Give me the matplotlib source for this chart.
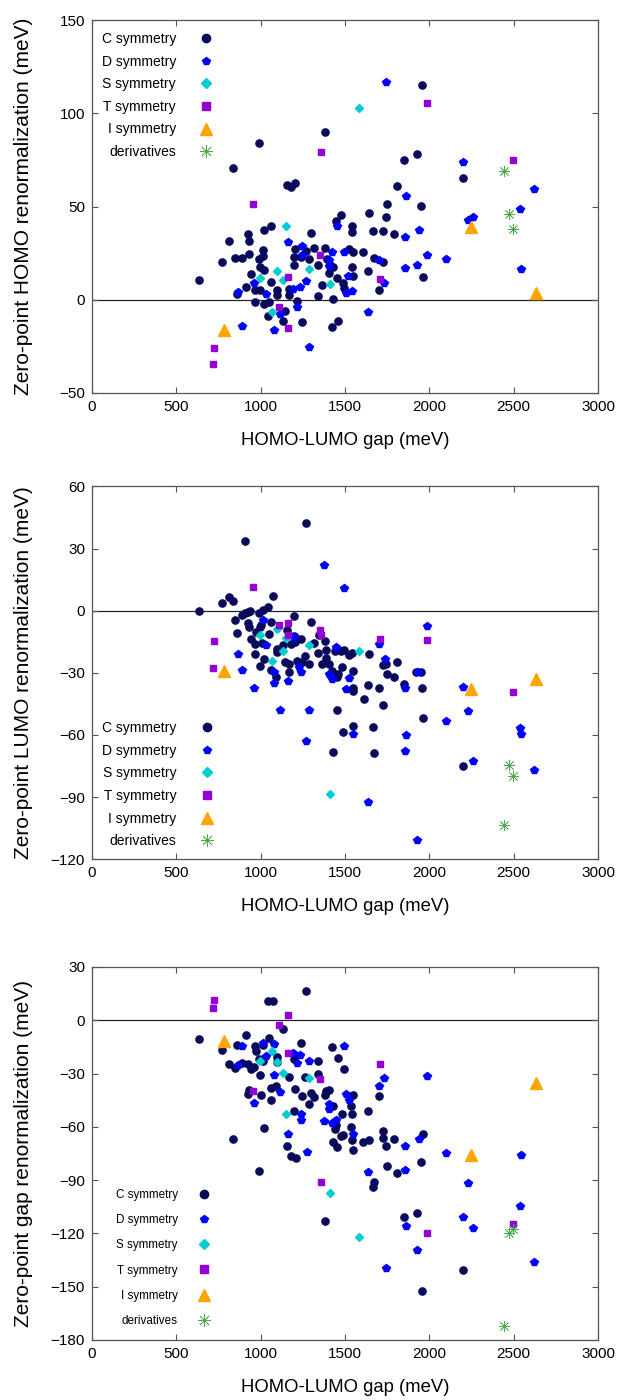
import matplotlib
matplotlib.use("Agg")
import matplotlib.pyplot as plt

plt.rcParams['font.family'] = ['Liberation Sans', 'DejaVu Sans']

labels = ["C symmetry", "D symmetry", "S symmetry", "T symmetry", "I symmetry", "derivatives"]
xticks = [0, 500, 1000, 1500, 2000, 2500, 3000]

# ---------------- Panel 1: HOMO ----------------
homo_C_x = [632, 770, 815, 835, 849, 888, 859, 910, 926, 928, 932, 943, 965, 967, 989, 991, 997, 1011, 1011, 997,
            1017, 1020, 1018, 1042, 1052, 1064, 1064, 1095, 1099, 1131, 1145, 1155, 1178, 1206, 1168, 1168, 1198, 1198,
            1206, 1214, 1240, 1242, 1269, 1285, 1301, 1317, 1338, 1342, 1364, 1380, 1384, 1392, 1407, 1411, 1423, 1429,
            1431, 1447, 1451, 1474, 1490, 1494, 1524, 1542, 1542, 1545, 1543, 1549, 1459, 1609, 1634, 1644, 1664, 1674,
            1703, 1727, 1727, 1743, 1747, 1792, 1810, 1849, 1924, 1950, 1954, 1960, 2201]
homo_C_y = [10.4, 20.5, 31.3, 70.9, 22.3, 22.3, 3.0, 7.0, 35.5, 31.3, 24.5, 13.9, 5.4, -1.4, 83.9, 21.8, 17.3, 26.6,
            23.6, 5.4, -2.1, 37.5, 16.1, -8.9, -1.4, 39.3, 9.5, 5.2, 2.5, -11.6, -6.2, 61.3, 60.4, 62.5, 5.7, 2.3, 18.8,
            22.9, 27.1, -0.9, 22.9, -12.0, 26.1, 21.8, 35.9, 27.9, 18.8, 2.0, 7.7, 27.5, 90.2, 21.6, 14.3, 18.8, -14.8,
            0.4, 17.3, 42.1, 11.4, 45.5, 8.9, 6.2, 27.3, 39.3, 36.4, 25.5, 17.3, 12.9, -11.2, 25.4, 15.2, 46.6, 37.1,
            22.3, 5.0, 37.1, 20.5, 44.5, 51.6, 35.0, 60.9, 74.8, 78.0, 50.2, 115.4, 12.1, 65.5]
homo_D_x = [868, 888, 963, 1030, 1076, 1113, 1159, 1190, 1218, 1232, 1245, 1245, 1269, 1289, 1403, 1421, 1407, 1451,
            1494, 1506, 1520, 1543, 1634, 1703, 1733, 1741, 1853, 1853, 1861, 1926, 1936, 1984, 2098, 2201, 2230, 2260,
            2536, 2542, 2621]
homo_D_y = [4.3, -13.9, 8.9, 3.2, -16.1, -7.9, 30.7, 5.7, -3.9, 7.0, 28.6, 24.1, 9.8, -25.4, 21.1, 25.5, 18.2, 39.3,
            25.5, 3.6, 12.5, 4.5, -6.8, 21.1, 8.8, 117.0, 33.8, 17.0, 55.7, 18.6, 37.5, 24.1, 21.6, 73.8, 42.7, 44.6,
            48.4, 16.6, 59.5]
homo_S_x = [997, 1070, 1099, 1135, 1151, 1287, 1411, 1581]
homo_S_y = [11.4, -6.8, 15.2, 10.5, 39.5, 16.4, 8.6, 102.7]
homo_T_x = [724, 720, 957, 1111, 1159, 1159, 1352, 1356, 1707, 1989, 2493]
homo_T_y = [-26.1, -34.5, 51.4, -3.9, 12.3, -15.0, 23.9, 79.3, 10.9, 105.5, 75.0]
homo_I_x = [780, 2244, 2635]
homo_I_y = [-16.4, 38.8, 3.6]
homo_der_x = [2443, 2473, 2497]
homo_der_y = [68.8, 45.9, 37.9]

# ---------------- Panel 2: LUMO ----------------
lumo_C_x = [632, 770, 815, 835, 849, 859, 888, 908, 926, 934, 908, 926, 930, 943, 965, 971, 967, 989, 993, 997,
            1001, 1011, 1020, 1007, 1042, 1050, 1062, 1062, 1074, 1092, 1095, 1095, 1131, 1143, 1155, 1170, 1168, 1178,
            1198, 1206, 1198, 1218, 1243, 1237, 1263, 1269, 1285, 1301, 1316, 1340, 1344, 1366, 1380, 1388, 1388, 1403,
            1423, 1441, 1451, 1451, 1460, 1480, 1474, 1494, 1490, 1522, 1539, 1545, 1545, 1545, 1545, 1613, 1636, 1644,
            1664, 1674, 1703, 1727, 1727, 1743, 1747, 1792, 1810, 1849, 1921, 1950, 1954, 1960, 2201, 1431, 1204]
lumo_C_y = [0.0, 3.9, 6.4, 4.5, -4.3, -10.9, -1.9, -1.3, -0.6, 0.0, 33.7, -5.9, -7.7, -13.6, -21.0, -10.1, -16.0,
            -1.0, -8.0, -26.6, -6.7, 0.3, -23.4, -15.7, 1.8, -11.2, -5.6, -28.4, 6.9, -32.1, -18.4, -19.9, -16.4, -24.7,
            -9.3, -25.8, -29.7, -16.0, -2.7, -15.2, -12.0, -24.1, -24.7, -13.6, -22.1, 42.5, -25.7, -5.3, -15.4, -20.5,
            -11.7, -25.7, -14.8, -18.8, -22.9, -25.7, -28.9, -19.7, -32.1, -47.8, -30.8, -27.3, -19.7, -18.9, -58.6,
            -21.2, -20.5, -29.2, -37.2, -38.8, -55.5, -42.8, -35.9, -21.0, -56.2, -68.7, -37.4, -26.0, -45.7, -25.7,
            -30.6, -31.9, -25.0, -35.5, -29.8, -29.5, -37.1, -51.7, -74.8, -68.3, -12.5]
lumo_D_x = [868, 888, 963, 1013, 1030, 1076, 1076, 1115, 1159, 1198, 1230, 1239, 1269, 1289, 1378, 1407, 1421, 1447,
            1494, 1506, 1522, 1545, 1634, 1703, 1737, 1853, 1861, 1855, 1928, 1934, 1984, 2098, 2201, 2230, 2260, 2536,
            2542, 2621]
lumo_D_y = [-21.0, -28.7, -37.5, -4.5, -16.7, -29.7, -34.7, -48.1, -34.0, -12.8, -27.3, -29.4, -63.0, -48.1, 22.0,
            -30.8, -32.9, -17.6, 11.1, -38.0, -32.4, -59.5, -92.2, -16.2, -23.3, -37.1, -60.2, -67.5, -110.7, -29.8,
            -7.5, -53.3, -36.9, -48.6, -72.5, -56.5, -59.5, -76.7]
lumo_S_x = [993, 1070, 1099, 1135, 1151, 1287, 1411, 1581]
lumo_S_y = [-11.7, -24.2, -8.7, -19.3, -13.3, -16.4, -88.4, -19.3]
lumo_T_x = [724, 720, 957, 1111, 1159, 1159, 1352, 1356, 1707, 1989, 2493]
lumo_T_y = [-14.8, -27.6, 11.6, -6.7, -6.1, -11.6, -9.5, -11.6, -13.6, -14.3, -39.3]
lumo_I_x = [780, 2244, 2635]
lumo_I_y = [-28.9, -37.7, -32.9]
lumo_der_x = [2473, 2497, 2443]
lumo_der_y = [-74.4, -79.7, -103.2]

# ---------------- Panel 3: gap ----------------
gap_C_x = [632, 770, 815, 835, 849, 859, 888, 910, 926, 930, 926, 943, 961, 965, 971, 991, 993, 987, 1001, 1011,
           1015, 1020, 1050, 1062, 1064, 1092, 1099, 1099, 1074, 1042, 1131, 1155, 1168, 1178, 1198, 1198, 1206, 1208,
           1239, 1243, 1265, 1269, 1285, 1301, 1316, 1338, 1340, 1380, 1384, 1388, 1407, 1421, 1427, 1427, 1441, 1447,
           1451, 1458, 1474, 1482, 1494, 1490, 1535, 1537, 1541, 1543, 1549, 1545, 1609, 1636, 1644, 1664, 1674, 1703,
           1727, 1727, 1743, 1747, 1792, 1810, 1849, 1924, 1950, 1954, 1960, 2201]
gap_C_y = [-10.5, -16.7, -24.9, -66.6, -26.6, -13.9, -23.8, -8.2, -24.9, -39.4, -41.6, -27.6, -26.2, -14.6, -17.4,
           -21.8, -30.9, -84.9, -42.2, -14.2, -22.9, -60.8, -9.8, -37.9, -45.0, -37.1, -20.8, -23.4, 10.7, 10.7, -5.1,
           -70.7, -31.9, -76.3, -51.0, -21.6, -38.8, -77.6, -12.6, -42.4, -32.1, 16.5, -47.2, -41.2, -43.1, -22.7,
           -30.0, -42.2, -113.1, -39.9, -39.4, -15.0, -48.4, -68.8, -61.3, -59.1, -71.2, -21.2, -65.1, -52.5, -27.6,
           -64.7, -60.0, -48.4, -67.7, -52.5, -42.0, -72.8, -68.4, -51.2, -67.5, -93.8, -91.3, -42.6, -62.6, -66.2,
           -70.7, -82.3, -66.9, -86.1, -110.6, -108.4, -79.9, -152.3, -64.1, -140.6]
gap_D_x = [868, 888, 963, 1013, 1030, 1076, 1076, 1115, 1159, 1194, 1218, 1231, 1241, 1241, 1273, 1289, 1378, 1403,
           1407, 1421, 1447, 1494, 1506, 1522, 1545, 1634, 1703, 1733, 1741, 1853, 1853, 1861, 1928, 1936, 1984, 2098,
           2201, 2230, 2260, 2536, 2542, 2621]
gap_D_y = [-25.3, -14.6, -46.5, -12.8, -19.9, -13.1, -31.1, -40.3, -64.3, -18.4, -24.0, -19.7, -52.5, -55.9, -73.9,
           -22.9, -56.6, -46.9, -49.7, -58.1, -56.2, -14.6, -41.6, -45.0, -63.8, -85.7, -37.1, -32.4, -139.7, -70.7,
           -84.4, -115.9, -129.2, -67.1, -31.3, -74.8, -110.6, -91.5, -117.2, -104.8, -76.1, -136.1]
gap_S_x = [997, 1070, 1099, 1135, 1151, 1287, 1411, 1581]
gap_S_y = [-22.9, -17.4, -23.4, -29.6, -52.5, -32.4, -97.3, -121.9]
gap_T_x = [724, 720, 957, 1111, 1159, 1159, 1352, 1356, 1707, 1989, 2493]
gap_T_y = [11.2, 6.8, -39.6, -2.6, 3.2, -18.2, -33.2, -91.1, -24.6, -119.8, -114.6]
gap_I_x = [780, 2244, 2635]
gap_I_y = [-11.4, -75.9, -35.6]
gap_der_x = [2473, 2497, 2443]
gap_der_y = [-120.0, -117.8, -172.1]

styles = [
    dict(marker='o', color='#0a0a5c', ms=5.2, ls='none'),
    dict(marker='p', color='#0000ff', ms=5.3, ls='none'),
    dict(marker='D', color='#00cdd0', ms=4.2, ls='none'),
    dict(marker='s', color='#9400d3', ms=4.6, ls='none'),
    dict(marker='^', color='#ffa500', ms=8.0, ls='none'),
    dict(marker=(8, 2, 0), color='#4aa84a', ms=8.0, ls='none', mew=0.55),
]

panels = [
    dict(series=[(homo_C_x, homo_C_y), (homo_D_x, homo_D_y), (homo_S_x, homo_S_y), (homo_T_x, homo_T_y),
                 (homo_I_x, homo_I_y), (homo_der_x, homo_der_y)],
         ylim=(-50, 150), yticks=[-50, 0, 50, 100, 150],
         ylabel="Zero-point HOMO renormalization (meV)", bottom=0.7193,
         leg=dict(loc='upper right', bbox=(0.239, 0.968), fs=10, spacing=0.62, pad=1.66)),
    dict(series=[(lumo_C_x, lumo_C_y), (lumo_D_x, lumo_D_y), (lumo_S_x, lumo_S_y), (lumo_T_x, lumo_T_y),
                 (lumo_I_x, lumo_I_y), (lumo_der_x, lumo_der_y)],
         ylim=(-120, 60), yticks=[-120, -90, -60, -30, 0, 30, 60],
         ylabel="Zero-point LUMO renormalization (meV)", bottom=0.3862,
         leg=dict(loc='lower right', bbox=(0.240, 0.030), fs=10, spacing=0.62, pad=1.66)),
    dict(series=[(gap_C_x, gap_C_y), (gap_D_x, gap_D_y), (gap_S_x, gap_S_y), (gap_T_x, gap_T_y),
                 (gap_I_x, gap_I_y), (gap_der_x, gap_der_y)],
         ylim=(-180, 30), yticks=[-180, -150, -120, -90, -60, -30, 0, 30],
         ylabel="Zero-point gap renormalization (meV)", bottom=0.0429,
         leg=dict(loc='lower right', bbox=(0.232, 0.035), fs=8.4, spacing=1.13, pad=1.7)),
]

fig = plt.figure(figsize=(6.4, 14.0), dpi=100)
axcol = '#555555'
for p in panels:
    ax = fig.add_axes([0.1438, p['bottom'], 0.7906, 0.2664])
    ax.axhline(0, color='#222222', lw=0.9, zorder=1)
    for (xs, ys), st, lab in zip(p['series'], styles, labels):
        ax.plot(xs, ys, label=lab, zorder=3, **st)
    ax.set_xlim(0, 3000)
    ax.set_ylim(*p['ylim'])
    ax.set_xticks(xticks)
    ax.set_yticks(p['yticks'])
    ax.tick_params(direction='in', top=True, right=True, length=4, width=0.8, color=axcol,
                   labelsize=11, pad=5)
    for s in ax.spines.values():
        s.set_color(axcol)
        s.set_linewidth(0.9)
    ax.set_xlabel("HOMO-LUMO gap (meV)", fontsize=13.3)
    ax.set_ylabel(p['ylabel'], fontsize=15)
    ax.xaxis.set_label_coords(0.5, -0.105)
    ax.yaxis.set_label_coords(-0.117, 0.5)
    lg = p['leg']
    ax.legend(loc=lg['loc'], bbox_to_anchor=lg['bbox'], markerfirst=False, frameon=False,
              fontsize=lg['fs'], labelspacing=lg['spacing'], handletextpad=lg['pad'], handlelength=1.0,
              borderpad=0, borderaxespad=0, markerscale=1.15)

fig.savefig("out.png", dpi=100)
